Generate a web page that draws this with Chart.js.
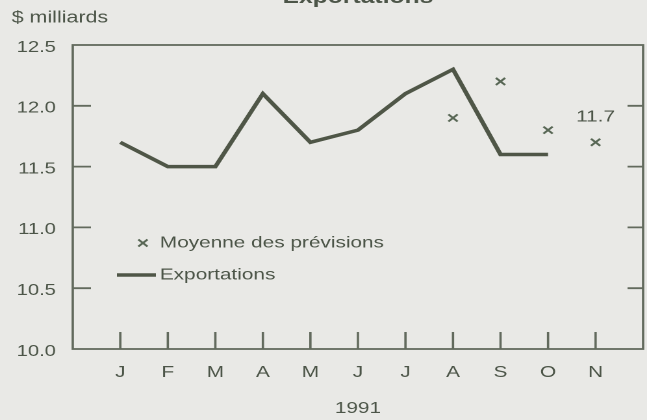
<!DOCTYPE html>
<html>
<head>
<meta charset="utf-8">
<script src="https://cdn.jsdelivr.net/npm/chart.js@4/dist/chart.umd.min.js"></script>
<style>
  html, body { margin: 0; padding: 0; background: #e9e9e6; }
  #wrap { width: 647px; height: 420px; overflow: hidden; position: relative; }
  /* the scanned original is stretched sideways, so the whole chart is too */
  #c { position: absolute; left: 0; top: 0; transform: scaleX(1.2992); transform-origin: 0 0; }
</style>
</head>
<body>
<div id="wrap"><canvas id="c" width="498" height="420"></canvas></div>
<script>
// Data
const months = ['J', 'F', 'M', 'A', 'M', 'J', 'J', 'A', 'S', 'O', 'N'];
const exportValues = [11.7, 11.5, 11.5, 12.1, 11.7, 11.8, 12.1, 12.3, 11.6, 11.6, null];
const forecastValues = [null, null, null, null, null, null, null, 11.9, 12.2, 11.8, 11.7];
const yTicks = [10.0, 10.5, 11.0, 11.5, 12.0, 12.5];
const calloutIndex = 10; // forecast point that carries its value as text
const chartTitle = 'Exportations';
const unitLabel = '$ milliards';
const yearLabel = '1991';
const legendForecast = 'Moyenne des prévisions';
const legendExports = 'Exportations';

const FONT = '"Liberation Sans", Arial, Helvetica, sans-serif';
const TEXT = '#4c5548';
const AXIS = '#626a5d';
const LINE = '#4f5647';
const CROSS = '#586755';
const CROSS_R = 5;

const toPoints = (arr) => arr
  .map((v, i) => (v === null ? null : { x: i, y: v }))
  .filter(Boolean);

function drawCross(ctx, x, y, r) {
  const d = Math.cos(Math.PI / 4) * r;
  ctx.beginPath();
  ctx.moveTo(x - d, y - d); ctx.lineTo(x + d, y + d);
  ctx.moveTo(x - d, y + d); ctx.lineTo(x + d, y - d);
  ctx.stroke();
}

const decor = {
  id: 'decor',
  beforeDatasetsDraw(chart) {
    const { ctx, chartArea: a, scales: { x: xs, y: ys } } = chart;
    ctx.save();
    ctx.strokeStyle = AXIS;
    ctx.lineWidth = 1.8;
    ctx.strokeRect(a.left, a.top, a.right - a.left, a.bottom - a.top);
    ctx.beginPath();
    yTicks.slice(1, -1).forEach(v => {
      const py = ys.getPixelForValue(v);
      ctx.moveTo(a.left, py); ctx.lineTo(a.left + 14, py);
      ctx.moveTo(a.right, py); ctx.lineTo(a.right - 12, py);
    });
    months.forEach((m, i) => {
      const px = xs.getPixelForValue(i);
      ctx.moveTo(px, a.bottom); ctx.lineTo(px, a.bottom - 17);
    });
    ctx.stroke();
    ctx.restore();
  },
  afterDatasetsDraw(chart) {
    const { ctx, chartArea: a, scales: { x: xs, y: ys } } = chart;
    ctx.save();
    ctx.fillStyle = TEXT;

    ctx.font = 'bold 19px ' + FONT;
    ctx.textAlign = 'center';
    ctx.textBaseline = 'alphabetic';
    ctx.fillText(chartTitle, (a.left + a.right) / 2, 3);

    ctx.font = '16.5px ' + FONT;
    ctx.textAlign = 'left';
    ctx.textBaseline = 'middle';
    ctx.fillText(unitLabel, 9, 18);

    // legend
    ctx.font = '16px ' + FONT;
    ctx.strokeStyle = CROSS;
    ctx.lineWidth = 1.8;
    drawCross(ctx, 110, 243, CROSS_R);
    ctx.fillText(legendForecast, 123, 243);
    ctx.strokeStyle = LINE;
    ctx.lineWidth = 3.5;
    ctx.beginPath();
    ctx.moveTo(90, 275); ctx.lineTo(120, 275);
    ctx.stroke();
    ctx.fillText(legendExports, 123, 275);

    // value callout
    const v = forecastValues[calloutIndex];
    ctx.textAlign = 'center';
    ctx.fillText(v.toFixed(1), xs.getPixelForValue(calloutIndex), ys.getPixelForValue(v) - 25);
    ctx.restore();
  }
};

new Chart(document.getElementById('c'), {
  type: 'line',
  data: {
    datasets: [
      {
        label: legendExports,
        data: toPoints(exportValues),
        borderColor: LINE,
        borderWidth: 3.5,
        borderJoinStyle: 'miter',
        pointRadius: 0,
        fill: false,
        tension: 0
      },
      {
        label: legendForecast,
        data: toPoints(forecastValues),
        showLine: false,
        pointStyle: 'crossRot',
        pointRadius: CROSS_R,
        pointBorderWidth: 1.8,
        pointBorderColor: CROSS,
        pointBackgroundColor: CROSS
      }
    ]
  },
  options: {
    responsive: false,
    devicePixelRatio: 2,
    animation: false,
    layout: { autoPadding: false, padding: { top: 45, right: 3, left: 0, bottom: 0 } },
    plugins: { legend: { display: false }, tooltip: { enabled: false }, title: { display: false } },
    scales: {
      x: {
        type: 'linear',
        min: -1,
        max: 11,
        afterBuildTicks: s => { s.ticks = months.map((m, i) => ({ value: i })); },
        afterFit: s => { s.height = 71; s.paddingLeft = 0; s.paddingRight = 0; },
        grid: { display: false, drawTicks: false },
        border: { display: false },
        ticks: {
          autoSkip: false,
          maxRotation: 0,
          padding: 14,
          color: TEXT,
          font: { family: FONT, size: 16 },
          callback: v => months[v] ?? ''
        },
        title: {
          display: true,
          text: yearLabel,
          color: TEXT,
          font: { family: FONT, size: 16 },
          padding: { top: 0, bottom: 2 }
        }
      },
      y: {
        min: 10,
        max: 12.5,
        afterBuildTicks: s => { s.ticks = yTicks.map(v => ({ value: v })); },
        afterFit: s => { s.width = 56; s.paddingTop = 0; s.paddingBottom = 0; },
        grid: { display: false, drawTicks: false },
        border: { display: false },
        ticks: {
          padding: 13,
          labelOffset: 2.5,
          color: TEXT,
          font: { family: FONT, size: 15.5 },
          callback: v => Number(v).toFixed(1)
        }
      }
    }
  },
  plugins: [decor]
});
</script>
</body>
</html>
